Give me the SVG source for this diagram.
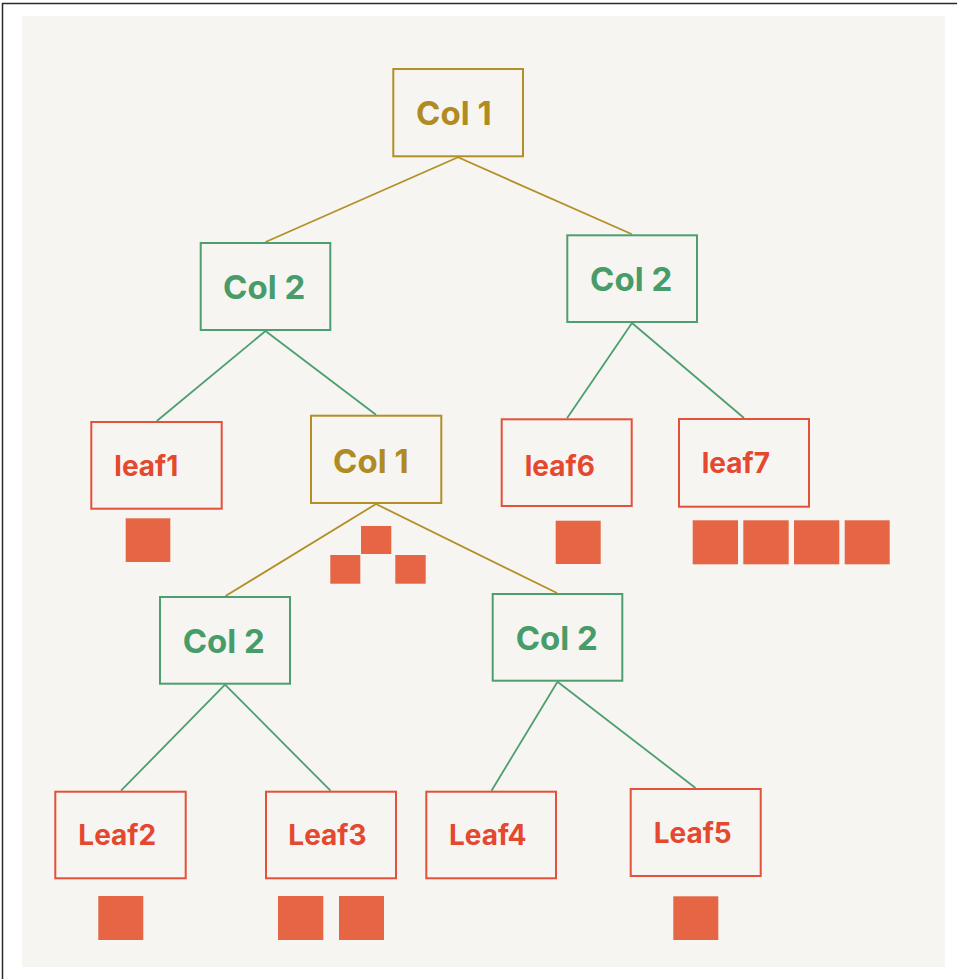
<svg xmlns="http://www.w3.org/2000/svg" width="957" height="979" viewBox="0 0 957 979">
<style>
.box{fill:none;stroke-width:2}
.gold{stroke:#B38F27}
.green{stroke:#4E9F70}
.red{stroke:#E5503A}
.t{font-family:Inter,"Noto Sans","Liberation Sans",sans-serif;font-weight:700}
.tc{font-size:33px}
.tl{font-size:28px}
.tg{fill:#B08A22}
.tgr{fill:#479C69}
.tr{fill:#E4482F}
.sq{fill:#E66545}
.ln{fill:none;stroke-width:1.8}
</style>
<rect x="0" y="0" width="957" height="979" fill="#FFFFFF"/>
<path d="M2.5 979 V3.5 H957" fill="none" stroke="#2a2a2a" stroke-width="1.5"/>
<rect x="22" y="16" width="923" height="951" fill="#F6F5F1"/>

<g id="connectors">
  <path class="ln gold" d="M458 157.3 L265.5 242 M458 157.3 L632 234.3"/>
  <path class="ln green" d="M265.5 331 L156.8 421 M265.5 331 L376 414.7"/>
  <path class="ln green" d="M632 323 L567 418.3 M632 323 L744 418"/>
  <path class="ln gold" d="M376 504 L225.5 596 M376 504 L557 593"/>
  <path class="ln green" d="M225 684.7 L121 790.7 M225 684.7 L330.5 790.7"/>
  <path class="ln green" d="M557.5 681.7 L491.5 790.7 M557.5 681.7 L695.5 788"/>
</g>

<g id="n_col1_root">
  <rect class="box gold" x="393.3" y="69" width="129.7" height="87.3"/>
  <text class="t tc tg" x="416" y="125">Col 1</text>
</g>
<g id="n_col2_left">
  <rect class="box green" x="200.7" y="243" width="129.6" height="87"/>
  <text class="t tc tgr" x="223" y="298.7">Col 2</text>
</g>
<g id="n_col2_right">
  <rect class="box green" x="567.3" y="235.3" width="129.7" height="86.7"/>
  <text class="t tc tgr" x="590" y="290.7">Col 2</text>
</g>
<g id="n_leaf1">
  <rect class="box red" x="91.3" y="422" width="130.4" height="86.7"/>
  <text class="t tl tr" x="114.3" y="475.7">leaf1</text>
  <rect class="sq" x="125.7" y="518.3" width="44.6" height="43.7"/>
</g>
<g id="n_col1_mid">
  <rect class="box gold" x="311" y="415.7" width="130.3" height="87.3"/>
  <text class="t tc tg" x="333" y="472.7">Col 1</text>
  <rect class="sq" x="361" y="526" width="30.3" height="28"/>
  <rect class="sq" x="330.3" y="555" width="30" height="28.7"/>
  <rect class="sq" x="395.3" y="555" width="30.4" height="28.7"/>
</g>
<g id="n_leaf6">
  <rect class="box red" x="501.7" y="419.3" width="130" height="86.7"/>
  <text class="t tl tr" x="524.7" y="475.7">leaf6</text>
  <rect class="sq" x="555.7" y="520.7" width="45" height="43.3"/>
</g>
<g id="n_leaf7">
  <rect class="box red" x="679" y="419" width="130" height="87.7"/>
  <text class="t tl tr" x="701.7" y="473.3">leaf7</text>
  <rect class="sq" x="692.7" y="520.3" width="45.3" height="44"/>
  <rect class="sq" x="743.3" y="520.3" width="45.4" height="44"/>
  <rect class="sq" x="794" y="520.3" width="45.3" height="44"/>
  <rect class="sq" x="844.7" y="520.3" width="45" height="44"/>
</g>
<g id="n_col2_ll">
  <rect class="box green" x="160" y="597" width="130" height="86.7"/>
  <text class="t tc tgr" x="182.7" y="653.3">Col 2</text>
</g>
<g id="n_col2_lr">
  <rect class="box green" x="492.7" y="594" width="129.6" height="86.7"/>
  <text class="t tc tgr" x="515.7" y="650">Col 2</text>
</g>
<g id="n_leaf2">
  <rect class="box red" x="55.3" y="791.7" width="130.4" height="86.6"/>
  <text class="t tl tr" x="78.3" y="845">Leaf2</text>
  <rect class="sq" x="98.3" y="896" width="45" height="44"/>
</g>
<g id="n_leaf3">
  <rect class="box red" x="266" y="791.7" width="130" height="86.6"/>
  <text class="t tl tr" x="288.3" y="845">Leaf3</text>
  <rect class="sq" x="278" y="896" width="45.3" height="44"/>
  <rect class="sq" x="339" y="896" width="45" height="44"/>
</g>
<g id="n_leaf4">
  <rect class="box red" x="426.3" y="791.7" width="129.7" height="86.6"/>
  <text class="t tl tr" x="449" y="845">Leaf4</text>
</g>
<g id="n_leaf5">
  <rect class="box red" x="630.7" y="789" width="130" height="87"/>
  <text class="t tl tr" x="653.7" y="843.3">Leaf5</text>
  <rect class="sq" x="673.3" y="896.3" width="45" height="43.7"/>
</g>
</svg>
